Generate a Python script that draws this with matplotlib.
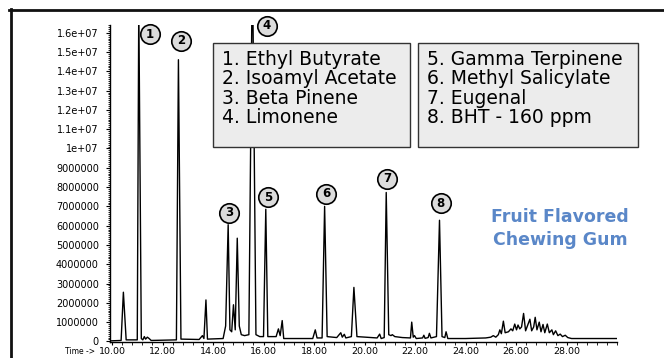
import matplotlib
matplotlib.use('Agg')
import matplotlib.pyplot as plt
from matplotlib.patches import Rectangle
from matplotlib.lines import Line2D
from matplotlib.ticker import MultipleLocator

# GC trace: retention time (min) and abundance (millions)
time = [9.95, 10.36, 10.45, 10.56, 11.00, 11.06, 11.16, 11.22, 11.28, 11.33,
        11.40, 11.47, 11.55, 12.55, 12.63, 12.73, 13.45, 13.58, 13.64, 13.72,
        13.78, 14.40, 14.50, 14.60, 14.67, 14.74, 14.81, 14.88, 14.96, 15.04,
        15.12, 15.25, 15.42, 15.56, 15.70, 15.85, 16.00, 16.09, 16.17, 16.50,
        16.59, 16.66, 16.74, 16.80, 17.00, 17.95, 18.05, 18.12, 18.32, 18.42,
        18.52, 18.90, 19.06, 19.12, 19.20, 19.26, 19.48, 19.58, 19.70, 20.50,
        20.60, 20.66, 20.78, 20.86, 20.96, 21.05, 21.10, 21.20, 21.50, 21.82,
        21.87, 21.93, 21.98, 22.05, 22.30, 22.35, 22.40, 22.52, 22.57, 22.63,
        22.85, 22.97, 23.07, 23.18, 23.23, 23.30, 24.00, 24.80, 25.00, 25.10,
        25.20, 25.30, 25.36, 25.42, 25.50, 25.57, 25.70, 25.80, 25.87, 25.95,
        26.02, 26.08, 26.15, 26.22, 26.30, 26.38, 26.48, 26.55, 26.62, 26.70,
        26.76, 26.83, 26.92, 26.99, 27.07, 27.14, 27.24, 27.32, 27.42, 27.48,
        27.57, 27.66, 27.75, 27.84, 27.95, 28.05, 28.20, 29.00, 30.00]
abund = [0.03, 0.05, 2.55, 0.08, 0.08, 17.5, 0.15, 0.08, 0.25, 0.12,
         0.22, 0.15, 0.05, 0.08, 14.6, 0.12, 0.10, 0.30, 0.15, 2.15,
         0.12, 0.15, 0.80, 6.05, 0.60, 0.50, 1.90, 0.60, 5.35, 0.80,
         0.35, 0.30, 0.35, 20.0, 0.35, 0.25, 0.25, 6.85, 0.25, 0.25,
         0.65, 0.30, 1.08, 0.15, 0.15, 0.15, 0.60, 0.18, 0.18, 7.00,
         0.25, 0.20, 0.45, 0.22, 0.37, 0.18, 0.25, 2.80, 0.25, 0.18,
         0.38, 0.15, 0.20, 7.72, 0.35, 0.30, 0.35, 0.25, 0.20, 0.18,
         1.00, 0.22, 0.30, 0.15, 0.18, 0.32, 0.16, 0.20, 0.42, 0.18,
         0.25, 6.28, 0.25, 0.20, 0.50, 0.15, 0.15, 0.18, 0.22, 0.30,
         0.22, 0.35, 0.60, 0.40, 1.05, 0.45, 0.50, 0.65, 0.55, 0.90,
         0.60, 0.85, 0.65, 0.75, 1.45, 0.55, 0.90, 1.15, 0.55, 0.75,
         1.25, 0.60, 1.00, 0.50, 0.88, 0.45, 0.90, 0.45, 0.60, 0.35,
         0.55, 0.30, 0.38, 0.25, 0.32, 0.20, 0.15, 0.15, 0.15]

# numbered peak markers
peak_no = ['1', '2', '3', '4', '5', '6', '7', '8']
label_t = [11.50, 12.75, 14.63, 16.13, 16.17, 18.47, 20.90, 23.01]
label_y = [15.93, 15.58, 6.68, 16.37, 7.46, 7.66, 8.44, 7.16]

compounds_a = ['1. Ethyl Butyrate', '2. Isoamyl Acetate', '3. Beta Pinene', '4. Limonene']
compounds_b = ['5. Gamma Terpinene', '6. Methyl Salicylate', '7. Eugenal', '8. BHT - 160 ppm']

xticks = [10, 12, 14, 16, 18, 20, 22, 24, 26, 28]
xtick_labels = ['10.00', '12.00', '14.00', '16.00', '18.00', '20.00', '22.00',
                '24.00', '26.00', '28.00']
yticks = [0, 1e6, 2e6, 3e6, 4e6, 5e6, 6e6, 7e6, 8e6, 9e6, 1e7, 1.1e7, 1.2e7,
          1.3e7, 1.4e7, 1.5e7, 1.6e7]
ytick_labels = ['0', '1000000', '2000000', '3000000', '4000000', '5000000',
                '6000000', '7000000', '8000000', '9000000', '1e+07', '1.1e+07',
                '1.2e+07', '1.3e+07', '1.4e+07', '1.5e+07', '1.6e+07']

W, H = 664, 358


def fx(x):
    return x / W


def fy(y):
    return 1 - y / H


fig = plt.figure(figsize=(6.64, 3.58), dpi=100)
ax = fig.add_axes([fx(110), fy(342), fx(617) - fx(110), fy(25) - fy(342)])

ax.plot(time, [a * 1e6 for a in abund], color='black', lw=1.0)
ax.set_xlim(9.92, 30.0)
ax.set_ylim(-0.03e6, 16.4e6)

for s in ['top', 'right']:
    ax.spines[s].set_visible(False)
ax.spines['left'].set_linewidth(1.0)
ax.spines['bottom'].set_linewidth(1.0)

ax.set_xticks(xticks)
ax.set_xticklabels(xtick_labels)
ax.xaxis.set_minor_locator(MultipleLocator(0.4))
ax.set_yticks(yticks)
ax.set_yticklabels(ytick_labels)
ax.yaxis.set_minor_locator(MultipleLocator(1e5))
ax.tick_params(axis='y', which='major', length=3, width=0.8, pad=5, labelsize=7)
ax.tick_params(axis='y', which='minor', length=1.5, width=0.6)
ax.tick_params(axis='x', which='major', length=2.5, width=0.8, pad=1.2, labelsize=6.8)
ax.tick_params(axis='x', which='minor', length=2.0, width=0.6)
fig.text(fx(80), fy(351.5), 'Time ->', fontsize=5.5, ha='center', va='center')

# circled peak numbers
ax.plot(label_t, [v * 1e6 for v in label_y], 'o', ms=14, mfc='#dcdcdc',
        mec='black', mew=1.2, clip_on=False, zorder=5)
for n, t, v in zip(peak_no, label_t, label_y):
    ax.text(t, v * 1e6, n, fontsize=8.5, fontweight='bold', ha='center',
            va='center', zorder=6, clip_on=False)

# compound key boxes
for left, right, names in [(213, 410, compounds_a), (418, 638, compounds_b)]:
    fig.add_artist(Rectangle((fx(left), fy(147)), fx(right) - fx(left), fy(43) - fy(147),
                             transform=fig.transFigure, facecolor='#ececec',
                             edgecolor='#333333', lw=1.0, zorder=3))
    for i, name in enumerate(names):
        fig.text(fx(left + 9), fy(65 + 19.5 * i), name, fontsize=13.5,
                 ha='left', va='baseline', zorder=4)

fig.text(fx(560), fy(222), 'Fruit Flavored', color='#5a87c8', fontsize=12.5,
         fontweight='bold', ha='center', va='baseline')
fig.text(fx(560), fy(245), 'Chewing Gum', color='#5a87c8', fontsize=12.5,
         fontweight='bold', ha='center', va='baseline')

# black frame on top and left edges
fig.add_artist(Line2D([fx(9), 1], [fy(9.7), fy(9.7)], transform=fig.transFigure,
                      color='#111111', lw=2))
fig.add_artist(Line2D([fx(10.7), fx(10.7)], [0, fy(9)], transform=fig.transFigure,
                      color='#111111', lw=2))

fig.savefig('out.png', dpi=100)
